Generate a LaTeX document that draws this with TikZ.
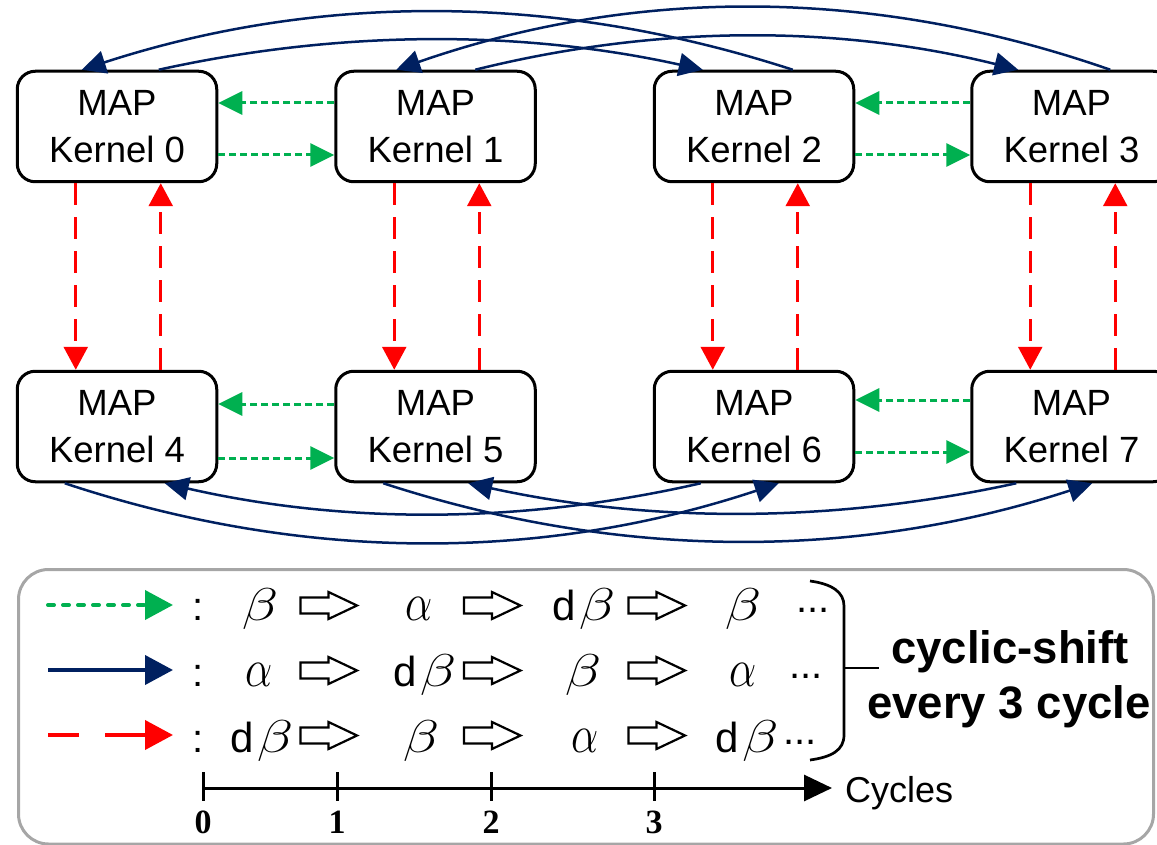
\RequirePackage{fix-cm}
\documentclass[tikz,border=0pt]{standalone}
\usepackage{graphicx}
\usepackage{fontspec}
\setmainfont{Liberation Sans}
\newfontfamily\numfont{Liberation Serif}
\usetikzlibrary{arrows.meta}

\definecolor{kgreen}{HTML}{00B050}
\definecolor{knavy}{HTML}{002060}
\definecolor{kred}{HTML}{FF0000}
\definecolor{kgray}{HTML}{A6A6A6}

% symbols of the cycle table
\newcommand\lgA{{\fontsize{48}{50}\selectfont\scalebox{0.9}[1.12]{$\alpha$}}}
\newcommand\lgB{{\fontsize{46}{50}\selectfont\scalebox{1.3}[1]{$\beta$}}}
\newcommand\lgDB{{\fontsize{42}{50}\selectfont d\hspace{3pt}}\lgB}

\begin{document}
\begin{tikzpicture}[x=1pt, y=-1pt,
  kernel/.style={draw=black, line width=3pt, rounded corners=18pt,
    minimum width=199.5pt, minimum height=110.5pt, inner sep=0pt,
    align=center, font=\fontsize{36.5}{47}\selectfont},
  gdot/.style={kgreen, line width=3pt, dash pattern=on 7pt off 4pt,
    -{Triangle[length=24pt,width=23pt]}},
  rdash/.style={kred, line width=2.7pt, dash pattern=on 22pt off 12pt,
    -{Triangle[length=23pt,width=24pt]}},
  ncurve/.style={knavy, line width=2.5pt, -{Triangle[length=24pt,width=23pt]}},
  legline/.style={line width=4pt, -{Triangle[length=28pt,width=29pt]}},
  sym/.style={anchor=base, inner sep=0pt},
  colon/.style={anchor=base, inner sep=0pt, font=\fontsize{40}{48}\selectfont},
  dots/.style={inner sep=0pt, font=\fontsize{40}{48}\selectfont},
  tick/.style={line width=3pt},
  ticklabel/.style={anchor=base, inner sep=0pt, font=\numfont\bfseries\fontsize{34}{40}\selectfont},
  note/.style={anchor=base, inner sep=0pt, font=\bfseries\fontsize{45.5}{52}\selectfont},
  hollow/.pic={\draw[line width=2.2pt, line join=miter, fill=white]
    (-28,-8) -- (0,-8) -- (0,-13.5) -- (28.5,0) -- (0,13.5) -- (0,8) -- (-28,8) -- cycle;}
]
\useasboundingbox (0,0) rectangle (1157,845);

% kernels
\node[kernel] (k0) at (117,126.5)    {MAP\\Kernel 0};
\node[kernel] (k1) at (435.5,126.5)  {MAP\\Kernel 1};
\node[kernel] (k2) at (754,126.5)    {MAP\\Kernel 2};
\node[kernel] (k3) at (1071.5,126.5) {MAP\\Kernel 3};
\node[kernel] (k4) at (117,426.5)    {MAP\\Kernel 4};
\node[kernel] (k5) at (435.5,426.5)  {MAP\\Kernel 5};
\node[kernel] (k6) at (754,426.5)    {MAP\\Kernel 6};
\node[kernel] (k7) at (1071.5,426.5) {MAP\\Kernel 7};

% horizontal neighbours (dotted green)
\draw[gdot] ([yshift=23.5pt]k1.west) -- ([yshift=23.5pt]k0.east);
\draw[gdot] ([yshift=-28.5pt]k0.east) -- ([yshift=-28.5pt]k1.west);
\draw[gdot] ([yshift=23.5pt]k3.west) -- ([yshift=23.5pt]k2.east);
\draw[gdot] ([yshift=-28.5pt]k2.east) -- ([yshift=-28.5pt]k3.west);
\draw[gdot] ([yshift=22.5pt]k5.west) -- ([yshift=22.5pt]k4.east);
\draw[gdot] ([yshift=-31.5pt]k4.east) -- ([yshift=-31.5pt]k5.west);
\draw[gdot] ([yshift=26.5pt]k7.west) -- ([yshift=26.5pt]k6.east);
\draw[gdot] ([yshift=-25.5pt]k6.east) -- ([yshift=-25.5pt]k7.west);

% vertical neighbours (dashed red)
\foreach \a/\b in {k0/k4, k1/k5, k2/k6, k3/k7}{
  \draw[rdash] ([xshift=60pt]\a.south west) -- ([xshift=60pt]\b.north west);
  \draw[rdash] ([xshift=145pt]\b.north west) -- ([xshift=145pt]\a.south west);
}

% long-range links over the top row
\draw[ncurve] ([xshift=140pt]k2.north west) .. controls +(-237,-77) and +(237,-77) .. ([xshift=66pt]k0.north west);
\draw[ncurve] ([xshift=143pt]k0.north west) .. controls +(181,-40) and +(-181,-40) .. ([xshift=50pt]k2.north west);
\draw[ncurve] ([xshift=140pt]k3.north west) .. controls +(-238,-83) and +(238,-83) .. ([xshift=62pt]k1.north west);
\draw[ncurve] ([xshift=141pt]k1.north west) .. controls +(181,-45) and +(-181,-45) .. ([xshift=48pt]k3.north west);

% long-range links under the bottom row
\draw[ncurve] ([xshift=49pt]k4.south west) .. controls +(238,79) and +(-238,79) .. ([xshift=126pt]k6.south west);
\draw[ncurve] ([xshift=49pt]k5.south west) .. controls +(236,77) and +(-236,77) .. ([xshift=122pt]k7.south west);
\draw[ncurve] ([xshift=48pt]k6.south west) .. controls +(-179,41) and +(179,41) .. ([xshift=149pt]k4.south west);
\draw[ncurve] ([xshift=46pt]k7.south west) .. controls +(-183,40) and +(183,40) .. ([xshift=134pt]k5.south west);

% legend frame
\node[draw=kgray, line width=3pt, rounded corners=30pt, minimum width=1135pt,
  minimum height=274.5pt, inner sep=0pt] (legend) at (586,706.75) {};

% legend line samples
\coordinate (g0) at (48,605);  \coordinate (g1) at (173,605);
\coordinate (n0) at (48,670);  \coordinate (n1) at (173,670);
\coordinate (r0) at (48,735);  \coordinate (r1) at (173,735);
\draw[legline, kgreen, line cap=round, dash pattern=on 6pt off 9pt] (g0) -- (g1);
\draw[legline, knavy] (n0) -- (n1);
\draw[legline, kred, dash pattern=on 31pt off 26pt on 45pt off 10pt] (r0) -- (r1);

\node[colon] (c1) at (198,620) {:};
\node[colon] (c2) at (198,686) {:};
\node[colon] (c3) at (198,752) {:};

% row 1
\node[sym] (s11) at (260,620) {\lgB};
\node[sym] (s12) at (419,620) {\lgA};
\node[sym] (s13) at (584,620) {\lgDB};
\node[sym] (s14) at (743,620) {\lgB};
\node[dots] (d1) at (813,610) {...};
% row 2
\node[sym] (s21) at (259,686) {\lgA};
\node[sym] (s22) at (425,686) {\lgDB};
\node[sym] (s23) at (583,686) {\lgB};
\node[sym] (s24) at (743,686) {\lgA};
\node[dots] (d2) at (806,676) {...};
% row 3
\node[sym] (s31) at (262,752) {\lgDB};
\node[sym] (s32) at (421,752) {\lgB};
\node[sym] (s33) at (585,752) {\lgA};
\node[sym] (s34) at (747,752) {\lgDB};
\node[dots] (d3) at (800,742) {...};

% step arrows between cycles
\foreach \y in {605.5,670.5,735.5}{
  \foreach \x in {328.5,492,656.5}{
    \pic at (\x,\y) {hollow};
  }
}

% brace grouping the three rows
\coordinate (bt) at (810,581);
\coordinate (bb) at (810,760);
\coordinate (bm) at (844,668);
\coordinate (bs) at (879,668);
\draw[line width=2.7pt] (bt) .. controls (832,584) and (844,592) .. (844,606)
  -- (844,735) .. controls (844,750) and (832,757) .. (bb);
\draw[line width=2.7pt] (bm) -- (bs);
\node[note] (n1) at (1010,663) {cyclic-shift};
\node[note] (n2) at (1009,718) {every 3 cycle};

% time axis
\coordinate (a0) at (203,788);
\coordinate (a1) at (832,788);
\draw[line width=3pt, -{Triangle[length=28pt,width=26pt]}] (a0) -- (a1);
\foreach \x/\t in {203/0, 337/1, 491/2, 654/3}{
  \draw[tick] (\x,772) -- (\x,801);
  \node[ticklabel] (t\t) at (\x,833) {\t};
}
\node[anchor=base west, inner sep=0pt, font=\fontsize{36}{42}\selectfont] (cyc) at (845,802) {Cycles};
\end{tikzpicture}
\end{document}
